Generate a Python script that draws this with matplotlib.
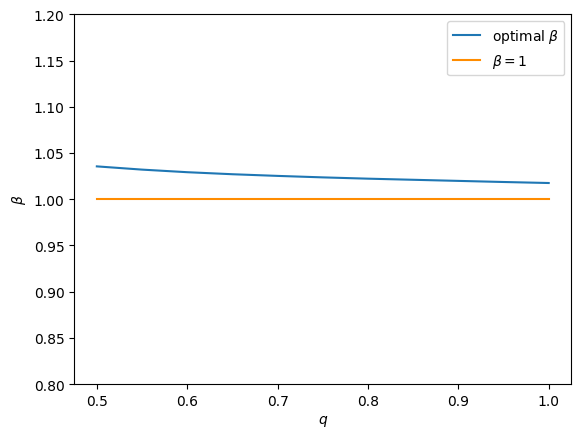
import matplotlib
matplotlib.use('Agg')
from matplotlib import pyplot as plt

# values
q_values = [0.50, 0.55, 0.60, 0.65, 0.70, 0.75, 0.80, 0.85, 0.90, 0.95, 1.00]
optimal_beta = [1.0355, 1.0320, 1.0292, 1.0270, 1.0252, 1.0236, 1.0222,
                1.0210, 1.0198, 1.0186, 1.0175]
beta_one = [1.0] * len(q_values)

fig, ax = plt.subplots(figsize=(5.8, 4.39), dpi=100)
ax.plot(q_values, optimal_beta, color='tab:blue', label=r'optimal $\beta$')
ax.plot(q_values, beta_one, color='darkorange', label=r'$\beta = 1$')
ax.set_ylim(0.8, 1.2)
ax.set_xlabel(r'$q$')
ax.set_ylabel(r'$\beta$')
ax.legend(loc='upper right')
fig.subplots_adjust(left=0.128, right=0.985, top=0.965, bottom=0.123)
fig.savefig('out.png')
